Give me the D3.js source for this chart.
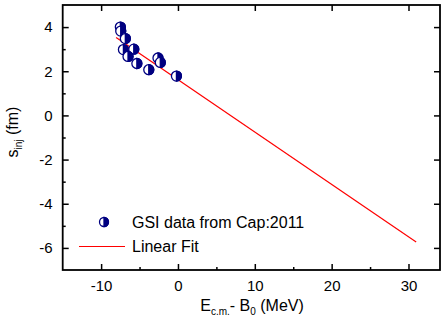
<!DOCTYPE html>
<html><head><meta charset="utf-8">
<script src="https://cdn.jsdelivr.net/npm/d3@7"></script>
<style>html,body{margin:0;padding:0;background:#fff}</style>
</head><body>
<script>
const xVals = [-7.5, -7.45, -6.85, -7.1, -5.75, -6.5, -5.35, -3.8, -2.6, -2.3, -0.2];
const yVals = [4.0, 3.82, 3.48, 2.98, 3.0, 2.67, 2.35, 2.07, 2.6, 2.4, 1.78];
const fitX = [-8.05, 31.0];
const fitIntercept = 1.62;
const fitSlope = -0.237;
const xTicks = [-10, 0, 10, 20, 30];
const xMinor = [-5, 5, 15, 25];
const yTicks = [4, 2, 0, -2, -4, -6];
const yMinor = [3, 1, -1, -3, -5];
const legendLabels = ["GSI data from Cap:2011", "Linear Fit"];

const W = 441, H = 329;
const L = 62.7, R = 440, T = 5, B = 270;
const font = "'Liberation Sans', Arial, Helvetica, sans-serif";
const navy = "#000080";

const svg = d3.select("body").append("svg").attr("width", W).attr("height", H)
  .style("font-family", font);

const x = d3.scaleLinear().domain([-15, 34.1]).range([L, R]);
const y = d3.scaleLinear().domain([-7, 5]).range([B, T]);
const fmt = d => String(d);

// fit line
const fitData = fitX.map(v => [v, fitIntercept + fitSlope * v]);
svg.append("path").datum(fitData)
  .attr("d", d3.line().x(d => x(d[0])).y(d => y(d[1])))
  .attr("stroke", "#ff0000").attr("stroke-width", 1.2).attr("fill", "none");

// half-filled markers
function marker(g, cx, cy, r) {
  g.append("circle").attr("cx", cx).attr("cy", cy).attr("r", r)
    .attr("fill", "#fff").attr("stroke", navy).attr("stroke-width", 1.3);
  g.append("path")
    .attr("d", `M${cx},${cy - r} A${r},${r} 0 0 1 ${cx},${cy + r} Z`)
    .attr("fill", navy).attr("stroke", navy).attr("stroke-width", 1.3);
}
const pts = svg.append("g");
xVals.forEach((v, i) => marker(pts, x(v), y(yVals[i]), 5));

// axes
const axB = svg.append("g").attr("transform", `translate(0,${B})`)
  .call(d3.axisBottom(x).tickValues(xTicks).tickSize(-6).tickPadding(10).tickFormat(fmt));
const axBm = svg.append("g").attr("transform", `translate(0,${B})`)
  .call(d3.axisBottom(x).tickValues(xMinor).tickSize(-3).tickFormat(""));
const axL = svg.append("g").attr("transform", `translate(${L},0)`)
  .call(d3.axisLeft(y).tickValues(yTicks).tickSize(-6).tickPadding(10).tickFormat(fmt));
const axLm = svg.append("g").attr("transform", `translate(${L},0)`)
  .call(d3.axisLeft(y).tickValues(yMinor).tickSize(-3).tickFormat(""));
const axT = svg.append("g").attr("transform", `translate(0,${T})`)
  .call(d3.axisTop(x).tickValues(xTicks).tickSize(-6).tickFormat(""));
const axR = svg.append("g").attr("transform", `translate(${R},0)`)
  .call(d3.axisRight(y).tickValues(yTicks).tickSize(-6).tickFormat(""));
[axB, axBm, axL, axLm, axT, axR].forEach(g => {
  g.select(".domain").remove();
  g.selectAll("line").attr("stroke", "#000").attr("stroke-width", 1.5);
  g.selectAll("text").style("font-family", font).style("font-size", "15px").attr("fill", "#000");
});
svg.append("rect").attr("x", L).attr("y", T).attr("width", R - L).attr("height", B - T)
  .attr("fill", "none").attr("stroke", "#000").attr("stroke-width", 1.8);

// axis titles
const xt = svg.append("text").attr("x", 252).attr("y", 311).attr("text-anchor", "middle")
  .style("font-size", "16px");
xt.append("tspan").text("E");
xt.append("tspan").attr("dy", 4).style("font-size", "10px").text("c.m.");
xt.append("tspan").attr("dy", -4).text("- B");
xt.append("tspan").attr("dy", 4).style("font-size", "10px").text("0");
xt.append("tspan").attr("dy", -4).text(" (MeV)");

const yt = svg.append("text").attr("transform", "translate(18,132) rotate(-90)")
  .attr("text-anchor", "middle").style("font-size", "16px");
yt.append("tspan").text("s");
yt.append("tspan").attr("dy", 4).style("font-size", "10px").text("inj");
yt.append("tspan").attr("dy", -4).text(" (fm)");

// legend
const lg = svg.append("g");
marker(lg, 104, 222, 4.5);
lg.append("text").attr("x", 132).attr("y", 227.5).style("font-size", "16px").text(legendLabels[0]);
lg.append("line").attr("x1", 79).attr("x2", 125).attr("y1", 246.5).attr("y2", 246.5)
  .attr("stroke", "#ff0000").attr("stroke-width", 1.2);
lg.append("text").attr("x", 132).attr("y", 252).style("font-size", "16px").text(legendLabels[1]);
</script>
</body></html>
